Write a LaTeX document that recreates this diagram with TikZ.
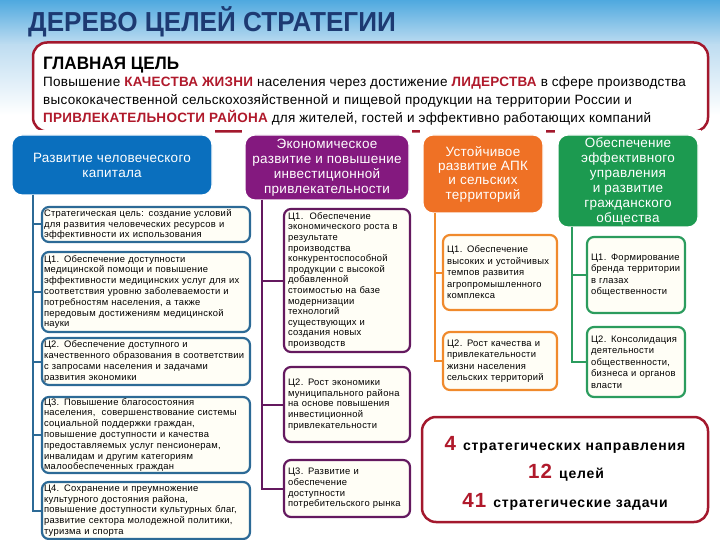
\documentclass[tikz,border=0pt]{standalone}
\usepackage{fontspec}
\setmainfont{Liberation Sans}
\newfontfamily\titlefont[FakeStretch=0.95]{Liberation Sans}
\newfontfamily\bodyfont[LetterSpace=2]{Liberation Sans}
\newfontfamily\boxfont[LetterSpace=3]{Liberation Sans}
\newfontfamily\headfont[LetterSpace=2]{Liberation Sans}
\newfontfamily\sumfont[LetterSpace=6]{Liberation Sans}
\definecolor{navy}{HTML}{1D3A72}
\definecolor{dred}{HTML}{A3182D}
\definecolor{tred}{HTML}{B0192B}
\definecolor{cblue}{HTML}{0A6FBE}
\definecolor{cpurple}{HTML}{84197F}
\definecolor{corange}{HTML}{EF7125}
\definecolor{cgreen}{HTML}{1C9A50}
\definecolor{lblue}{HTML}{2C6A96}
\definecolor{lpurple}{HTML}{64195F}
\definecolor{lorange}{HTML}{F08A2C}
\definecolor{lgreen}{HTML}{2B9C5E}
\definecolor{bfill}{HTML}{FFFEF6}
\definecolor{skyb}{HTML}{4FA9DF}
\definecolor{skym}{HTML}{BFDDF1}
\newcommand\bignum[1]{{\color{tred}\bfseries\fontsize{20.5}{22}\selectfont #1}}
\tikzset{
  header/.style={rounded corners=10pt, text=white, align=center, draw=white, line width=1.2pt,
    font=\headfont\fontsize{13.5}{15}\selectfont, inner sep=0pt},
  gbox/.style={rounded corners=7pt, line width=2.2pt, fill=bfill, align=left, inner xsep=4pt, inner ysep=0pt,
    font=\boxfont\fontsize{9.4}{10.8}\selectfont},
  box1/.style={gbox, draw=lblue, text width=204pt, inner xsep=2pt},
  box2/.style={gbox, draw=lpurple, text width=118pt, font=\boxfont\fontsize{9.4}{10.6}\selectfont},
  box3/.style={gbox, draw=lorange, text width=106pt, font=\boxfont\fontsize{9.4}{11.5}\selectfont},
  box4/.style={gbox, draw=lgreen, text width=90pt, font=\boxfont\fontsize{9.4}{11.5}\selectfont},
  ln1/.style={draw=lblue, line width=2pt},
  ln2/.style={draw=lpurple, line width=2pt},
  ln3/.style={draw=lorange, line width=2pt},
  ln4/.style={draw=lgreen, line width=2pt},
  redbox/.style={draw=dred, line width=2.5pt, rounded corners=14pt, fill=white, inner sep=0pt},
  bodyline/.style={anchor=base west, inner sep=0pt, font=\bodyfont\fontsize{13.5}{16}\selectfont},
  sumline/.style={anchor=base, inner sep=0pt, font=\sumfont\bfseries\fontsize{14}{15}\selectfont}
}
\begin{document}
\begin{tikzpicture}[x=1pt,y=-1pt]
\useasboundingbox (0,0) rectangle (720,540);
\shade[top color=skyb, bottom color=skym] (0,0) rectangle (720,45);
\shade[top color=skym, bottom color=white] (0,45) rectangle (720,115);
% title
\node[anchor=base west, inner sep=0pt, text=navy, font=\titlefont\bfseries\fontsize{27.5}{30}\selectfont] (title) at (28,32) {ДЕРЕВО ЦЕЛЕЙ СТРАТЕГИИ};
% main goal box
\node[redbox, minimum width=675pt, minimum height=89pt] (main) at (370.5,87) {};
\node[anchor=base west, inner sep=0pt, font=\titlefont\bfseries\fontsize{18}{20}\selectfont] (gl) at (43,70) {ГЛАВНАЯ ЦЕЛЬ};
\node[bodyline] (m1) at (43,87) {Повышение {\color{tred}\bfseries КАЧЕСТВА ЖИЗНИ} населения через достижение {\color{tred}\bfseries ЛИДЕРСТВА} в сфере производства};
\node[bodyline] (m2) at (43,105) {высококачественной сельскохозяйственной и пищевой продукции на территории России и};
\node[bodyline] (m3) at (43,123) {{\color{tred}\bfseries ПРИВЛЕКАТЕЛЬНОСТИ РАЙОНА} для жителей, гостей и эффективно работающих компаний};
% white covers over the main box bottom
\fill[white] (9,130) rectangle (215,138);
\fill[white] (242,130) rectangle (412,138);
\fill[white] (420,130) rectangle (546,138);
\fill[white] (555,130) rectangle (701,138);
% headers
\node[header, fill=cblue, minimum width=200pt, minimum height=60pt] (h1) at (112,165) {Развитие человеческого\\капитала};
\node[header, fill=cpurple, minimum width=164pt, minimum height=65pt] (h2) at (327,167.5) {Экономическое\\развитие и повышение\\инвестиционной\\привлекательности};
\node[header, fill=corange, minimum width=120pt, minimum height=78pt, font=\headfont\fontsize{13.5}{14.3}\selectfont] (h3) at (483,174) {Устойчивое\\развитие АПК\\и сельских\\территорий};
\node[header, fill=cgreen, minimum width=140pt, minimum height=92pt] (h4) at (628,181) {Обеспечение\\эффективного\\управления\\и развитие\\гражданского\\общества};
% trunk coordinates
\coordinate (v1) at (33,195);
\coordinate (v2) at (262,200);
\coordinate (v3) at (435,213);
\coordinate (v4) at (572,227);
% column 1 boxes
\node[box1, minimum height=35pt] (b10) at (146,224.5) {Стратегическая цель: создание условий\\для развития человеческих ресурсов и\\эффективности их использования};
\node[box1, minimum height=80pt] (b11) at (146,292) {Ц1. Обеспечение доступности\\медицинской помощи и повышение\\эффективности медицинских услуг для их\\соответствия уровню заболеваемости и\\потребностям населения, а также\\передовым достижениям медицинской\\науки};
\node[box1, minimum height=47pt] (b12) at (146,361.5) {Ц2. Обеспечение доступного и\\качественного образования в соответствии\\с запросами населения и задачами\\развития экономики};
\node[box1, minimum height=76pt] (b13) at (146,435) {Ц3. Повышение благосостояния\\населения,\ \ совершенствование системы\\социальной поддержки граждан,\\повышение доступности и качества\\предоставляемых услуг пенсионерам,\\инвалидам и другим категориям\\малообеспеченных граждан};
\node[box1, minimum height=57pt] (b14) at (146,510.5) {Ц4. Сохранение и преумножение\\культурного достояния района,\\повышение доступности культурных благ,\\развитие сектора молодежной политики,\\туризма и спорта};
% column 2 boxes
\node[box2, minimum height=143pt] (c21) at (347,280.5) {Ц1.\ \ Обеспечение\\экономического роста в\\результате\\производства\\конкурентоспособной\\продукции с высокой\\добавленной\\стоимостью на базе\\модернизации\\технологий\\существующих и\\создания новых\\производств};
\node[box2, minimum height=75pt] (c22) at (347,404.5) {Ц2. Рост экономики\\муниципального района\\на основе повышения\\инвестиционной\\привлекательности};
\node[box2, minimum height=57pt] (c23) at (347,488.5) {Ц3. Развитие и\\обеспечение\\доступности\\потребительского рынка};
% column 3 boxes
\node[box3, minimum height=75pt] (c31) at (500,272.5) {Ц1. Обеспечение\\высоких и устойчивых\\темпов развития\\агропромышленного\\комплекса};
\node[box3, minimum height=58pt] (c32) at (500,361) {Ц2. Рост качества и\\привлекательности\\жизни населения\\сельских территорий};
% column 4 boxes
\node[box4, minimum height=76pt] (c41) at (636,275) {Ц1. Формирование\\бренда территории\\в глазах\\общественности};
\node[box4, minimum height=70pt] (c42) at (636,362) {Ц2. Консолидация\\деятельности\\общественности,\\бизнеса и органов\\власти};
% connectors
\foreach \b in {b10,b11,b12,b13,b14} \draw[ln1] (v1) |- (\b.west);
\foreach \b in {c21,c22,c23} \draw[ln2] (v2) |- (\b.west);
\foreach \b in {c31,c32} \draw[ln3] (v3) |- (\b.west);
\foreach \b in {c41,c42} \draw[ln4] (v4) |- (\b.west);
% summary box
\node[redbox, minimum width=286pt, minimum height=105pt] (sum) at (565,469.5) {};
\node[sumline] (s1) at (565,450) {\bignum{4}\hspace{7pt}стратегических направления};
\node[sumline] (s2) at (566,478) {\bignum{12}\hspace{7pt}целей};
\node[sumline] (s3) at (565,507) {\bignum{41}\hspace{7pt}стратегические задачи};
\end{tikzpicture}
\end{document}
